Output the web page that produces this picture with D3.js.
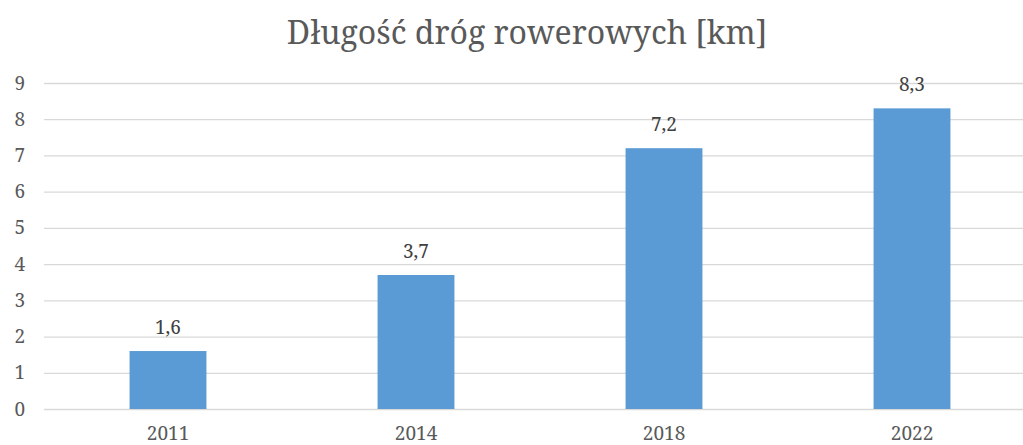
<!DOCTYPE html>
<html><head><meta charset="utf-8">
<script src="https://cdn.jsdelivr.net/npm/d3@7"></script>
<style>body{margin:0;background:#fff}svg{display:block}</style>
</head><body>
<script>
const categories = ["2011", "2014", "2018", "2022"];
const values = [1.6, 3.7, 7.2, 8.3];
const yTicks = [0, 1, 2, 3, 4, 5, 6, 7, 8, 9];
const title = "Długość dróg rowerowych [km]";

const W = 1023, H = 445;
const font = "'Noto Serif','DejaVu Serif',serif";
const svg = d3.select("body").append("svg").attr("width", W).attr("height", H);

const x = d3.scaleBand().domain(categories).range([44, 1036]).paddingInner(0.69).paddingOuter(0.345);
const y = d3.scaleLinear().domain([0, 9]).range([409, 83]);

svg.append("text").attr("x", 527).attr("y", 44).attr("text-anchor", "middle")
  .style("font-family", font).style("font-size", "32px").attr("fill", "#595959").text(title);

const yAxis = d3.axisLeft(y).tickValues(yTicks).tickSize(-(W - 44)).tickFormat(d3.format("d"));
const gy = svg.append("g").attr("transform", "translate(44,0)").call(yAxis);
gy.select(".domain").remove();
gy.selectAll(".tick line").attr("stroke", "#d9d9d9").attr("stroke-width", 1.3);
gy.selectAll(".tick text").attr("x", -19).style("font-family", font).style("font-size", "19px").attr("fill", "#595959");

svg.append("g").selectAll("rect").data(values).join("rect")
  .attr("x", (d, i) => x(categories[i])).attr("width", x.bandwidth())
  .attr("y", d => y(d)).attr("height", d => y(0) - y(d)).attr("fill", "#5b9bd5");

svg.append("g").selectAll("text").data(values).join("text")
  .attr("x", (d, i) => x(categories[i]) + x.bandwidth() / 2).attr("y", d => y(d) - 17)
  .attr("text-anchor", "middle").style("font-family", font).style("font-size", "19px").attr("fill", "#404040")
  .text(d => d3.format(".1f")(d).replace(".", ","));

const xAxis = d3.axisBottom(x).tickSize(0);
const gx = svg.append("g").attr("transform", "translate(0,409)").call(xAxis);
gx.select(".domain").remove();
gx.selectAll(".tick text").attr("dy", 0).attr("y", 31).style("font-family", font).style("font-size", "19px").attr("fill", "#595959");
</script>
</body></html>
